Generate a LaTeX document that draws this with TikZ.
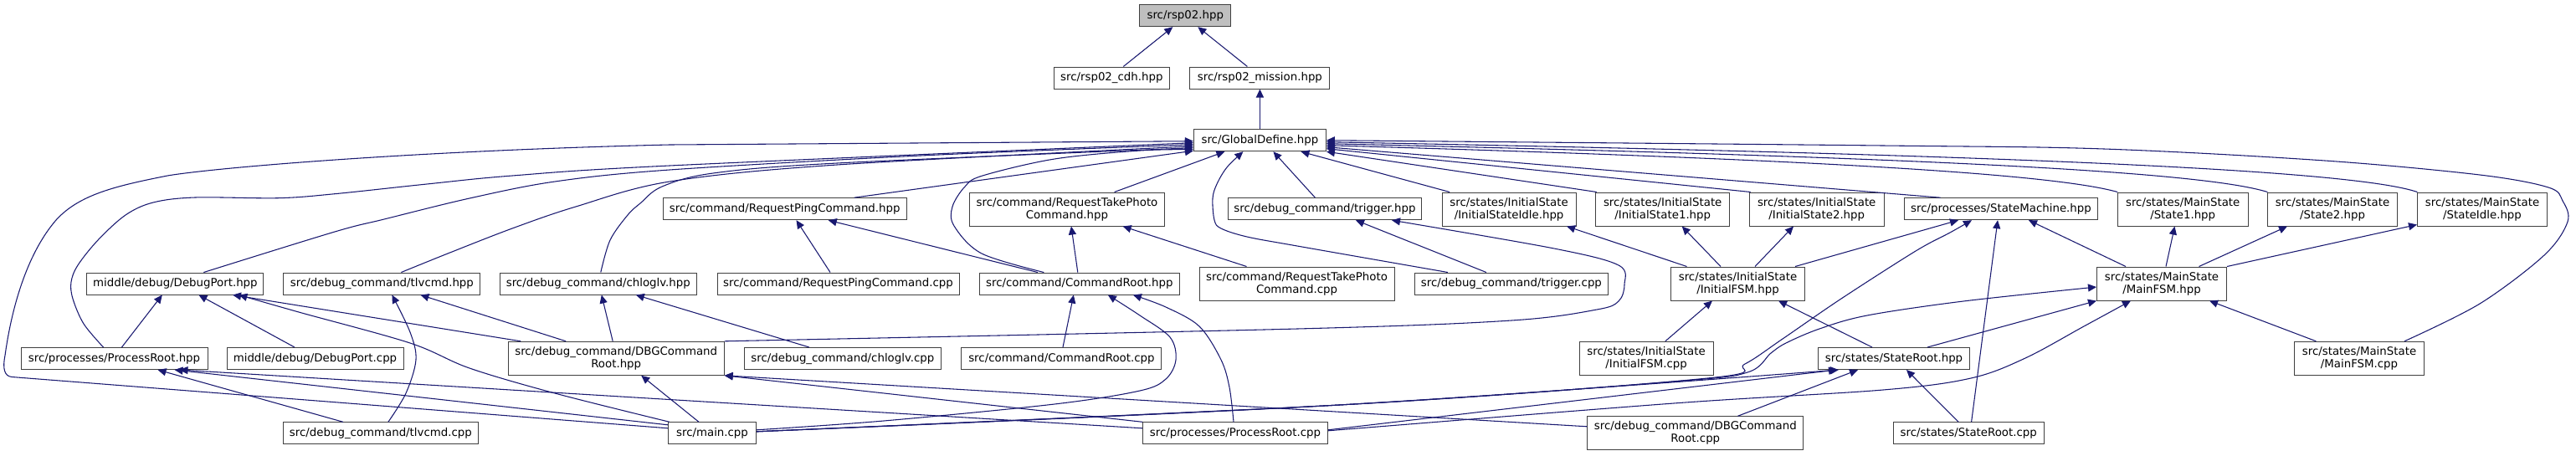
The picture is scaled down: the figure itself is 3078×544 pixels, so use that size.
\documentclass[tikz,border=0pt]{standalone}
\usepackage{fontspec}
\setmainfont{DejaVu Sans}
\usetikzlibrary{arrows.meta,calc}
\definecolor{edgec}{HTML}{191970}
\definecolor{boxc}{HTML}{404040}
\definecolor{rootfill}{HTML}{BFBFBF}
\begin{document}
\begin{tikzpicture}[x=0.75pt,y=-0.75pt,
  box/.style={draw=boxc,line width=0.75pt,fill=white,inner sep=0pt,minimum height=19.5pt,align=center,font=\fontsize{10}{11.25}\selectfont},
  box2/.style={box,minimum height=30pt},
  bw/.style={minimum width={#1*0.75pt}},
  edge/.style={draw=edgec,line width=0.8pt,-{Triangle[length=7.5pt,width=6.8pt]}},
]
\useasboundingbox (0,0) rectangle (3078,544);

% ---------- nodes ----------
\node[box,bw=109,fill=rootfill] (rsp02) at (1416.3,18.7) {src/rsp02.hpp};
\node[box,bw=138] (cdh) at (1328.3,93) {src/rsp02\_cdh.hpp};
\node[box,bw=167] (mission) at (1505.4,93) {src/rsp02\_mission.hpp};
\node[box,bw=158] (gd) at (1505.4,167.7) {src/GlobalDefine.hpp};

\node[box,bw=291] (reqping) at (937.7,249.7) {src/command/RequestPingCommand.hpp};
\node[box2,bw=233] (reqphoto) at (1275,250) {src/command/RequestTakePhoto\\Command.hpp};
\node[box,bw=231] (trighpp) at (1583,249.7) {src/debug\_command/trigger.hpp};
\node[box2,bw=160] (isidle) at (1803.1,250) {src/states/InitialState\\/InitialStateIdle.hpp};
\node[box2,bw=160] (is1) at (1986.7,250) {src/states/InitialState\\/InitialState1.hpp};
\node[box2,bw=161] (is2) at (2170.7,250) {src/states/InitialState\\/InitialState2.hpp};
\node[box,bw=231] (sm) at (2391,249.7) {src/processes/StateMachine.hpp};
\node[box2,bw=156] (ms1) at (2608.2,250) {src/states/MainState\\/State1.hpp};
\node[box2,bw=155] (ms2) at (2787,250) {src/states/MainState\\/State2.hpp};
\node[box2,bw=155] (msidle) at (2966,250) {src/states/MainState\\/StateIdle.hpp};

\node[box,bw=211] (dphpp) at (209.4,339) {middle/debug/DebugPort.hpp};
\node[box,bw=235] (tlvhpp) at (456.4,339) {src/debug\_command/tlvcmd.hpp};
\node[box,bw=235] (chlhpp) at (714.8,339) {src/debug\_command/chloglv.hpp};
\node[box,bw=289] (reqpingcpp) at (1001.5,339) {src/command/RequestPingCommand.cpp};
\node[box,bw=239] (crhpp) at (1289.8,339) {src/command/CommandRoot.hpp};
\node[box2,bw=233] (reqphotocpp) at (1549.5,339) {src/command/RequestTakePhoto\\Command.cpp};
\node[box,bw=231] (trigcpp) at (1805.9,339) {src/debug\_command/trigger.cpp};
\node[box2,bw=160] (ifsmhpp) at (2076.5,339) {src/states/InitialState\\/InitialFSM.hpp};
\node[box2,bw=155] (mfsmhpp) at (2583,339) {src/states/MainState\\/MainFSM.hpp};

\node[box,bw=223] (prhpp) at (136.5,428.5) {src/processes/ProcessRoot.hpp};
\node[box,bw=211] (dpcpp) at (376.5,428.5) {middle/debug/DebugPort.cpp};
\node[box2,bw=258] (dbghpp) at (736.2,428.3) {src/debug\_command/DBGCommand\\Root.hpp};
\node[box,bw=235] (chlcpp) at (1006.9,428.5) {src/debug\_command/chloglv.cpp};
\node[box,bw=239] (crcpp) at (1268.4,428.5) {src/command/CommandRoot.cpp};
\node[box2,bw=160] (ifsmcpp) at (1967.1,428.3) {src/states/InitialState\\/InitialFSM.cpp};
\node[box,bw=181] (srhpp) at (2263,428.5) {src/states/StateRoot.hpp};
\node[box2,bw=155] (mfsmcpp) at (2819,428.3) {src/states/MainState\\/MainFSM.cpp};

\node[box,bw=233] (tlvcpp) at (454.9,517.8) {src/debug\_command/tlvcmd.cpp};
\node[box,bw=105] (maincpp) at (851,517.8) {src/main.cpp};
\node[box,bw=221] (prcpp) at (1476,517.8) {src/processes/ProcessRoot.cpp};
\node[box2,bw=258] (dbgcpp) at (2025.8,517.8) {src/debug\_command/DBGCommand\\Root.cpp};
\node[box,bw=180] (srcpp) at (2352.2,517.8) {src/states/StateRoot.cpp};

% ---------- connector end coordinates ----------
\coordinate (gL1) at ($(gd.west)+(0,1)$);
\coordinate (gL2) at ($(gd.west)+(0,3)$);
\coordinate (gL3) at ($(gd.west)+(0,5)$);
\coordinate (gL4) at ($(gd.west)+(0,7)$);
\coordinate (gL5) at ($(gd.west)+(0,9)$);
\coordinate (gL6) at ($(gd.west)+(0,11)$);
\coordinate (gR0) at ($(gd.east)+(0,0)$);
\coordinate (gR1) at ($(gd.east)+(0,2)$);
\coordinate (gR2) at ($(gd.east)+(0,4)$);
\coordinate (gR3) at ($(gd.east)+(0,6)$);
\coordinate (gR4) at ($(gd.east)+(0,8)$);
\coordinate (gR5) at ($(gd.east)+(0,10)$);

\coordinate (a4) at ($(maincpp.west)+(0,-6)$);
\coordinate (a5) at ($(prhpp.north)+(-13,0)$);
\coordinate (a6) at ($(dphpp.north)+(34,0)$);
\coordinate (a7) at ($(tlvhpp.north)+(23,0)$);
\coordinate (a8) at ($(chlhpp.north)+(3,0)$);
\coordinate (a10) at ($(crhpp.north)+(-42.5,0)$);
\coordinate (a12) at ($(trigcpp.north)+(-76,0)$);
\coordinate (b12) at ($(gd.south)+(-20,0)$);
\coordinate (a21) at ($(mfsmcpp.north)+(54,0)$);
\coordinate (a25) at ($(maincpp.north west)+(2,0)$);
\coordinate (b25) at ($(dphpp.south)+(76,0)$);
\coordinate (a27) at ($(tlvcpp.north)+(9,0)$);
\coordinate (b27) at ($(tlvhpp.south)+(12,0)$);
\coordinate (a37) at ($(maincpp.east)+(0,-4)$);
\coordinate (b37) at ($(crhpp.south)+(34,0)$);
\coordinate (a38) at ($(prcpp.north)+(-2,0)$);
\coordinate (b38) at ($(crhpp.south)+(64,0)$);
\coordinate (b44) at ($(trighpp.south)+(80,0)$);
\coordinate (aM) at ($(maincpp.east)+(0,-2)$);
\coordinate (b51) at ($(sm.south)+(-35,0)$);
\coordinate (a58) at ($(prcpp.east)+(0,-3)$);
\coordinate (b58) at ($(mfsmhpp.south)+(-37,0)$);
\coordinate (b59) at ($(mfsmhpp.west)+(0,4)$);
\coordinate (b61) at ($(srhpp.south)+(-66,0)$);

% ---------- connectors ----------
\draw[edge] ($(cdh.north)+(14,0)$) -- ($(rsp02.south)+(-15,0)$);
\draw[edge] ($(mission.north)+(-15,0)$) -- ($(rsp02.south)+(15,0)$);
\draw[edge] (gd.north) -- (mission.south);

% into GlobalDefine from the left
\draw[edge] (a4) -- (14,450.5) .. controls (5,449.5) and (3,440) .. (6,425)
  .. controls (15,360) and (35,300) .. (67,263)
  .. controls (95,232) and (140,222) .. (200,210)
  .. controls (260,200) and (500,180) .. (800,173) -- (gL1);
\draw[edge] plot[smooth,tension=0.55] coordinates {(a5) (100,387) (87,357) (85,337) (93,317) (117,287) (150,257) (183,242) (233,236) (333,236.7) (400,231.7) (510,220) (612,210) (800,198) (gL2)};
\draw[edge] plot[smooth,tension=0.55] coordinates {(a6) (400,277) (459,262) (561,237) (663,217) (800,203) (1100,186) (gL3)};
\draw[edge] plot[smooth,tension=0.55] coordinates {(a7) (535,303) (612,273) (688,247) (800,217) (1000,197) (gL4)};
\draw[edge] plot[smooth,tension=0.55] coordinates {(a8) (729,287) (750,257) (765,243) (791,223) (852,207) (1000,195) (gL5)};
\draw[edge] ($(reqping.north)+(83,0)$) -- ($(gd.south west)+(0,-1)$);
\draw[edge] plot[smooth,tension=0.55] coordinates {(a10) (1173,303) (1140,270) (1138,247) (1153,223) (1174,210) (1260,190) (1362,180) (gL6)};
% into GlobalDefine from below
\draw[edge] ($(reqphoto.north)+(56.6,0)$) -- ($(gd.south)+(-42,0)$);
\draw[edge] plot[smooth,tension=0.55] coordinates {(a12) (1550,294) (1490,283) (1459,273) (1451,263) (1449,237) (1454,220) (1466,200) (b12)};
\draw[edge] ($(trighpp.north)+(-11.6,0)$) -- ($(gd.south)+(16,0)$);
\draw[edge] ($(isidle.north)+(-71,0)$) -- ($(gd.south)+(49,0)$);
% into GlobalDefine from the right
\draw[edge] ($(is1.north)+(-79,0)$) -- (gd.south east);
\draw[edge] ($(is2.north)+(-79,0)$) -- (gR5);
\draw[edge] ($(sm.north)+(-72.4,0)$) -- (gR4);
\draw[edge] ($(ms1.north)+(-78,0)$) .. controls (2450,207) and (2150,190) .. (gR3);
\draw[edge] ($(ms2.north)+(-77.6,0)$) .. controls (2630,205) and (2300,188) .. (gR2);
\draw[edge] ($(msidle.north)+(-77.6,0)$) .. controls (2810,203) and (2400,185) .. (gR1);
\draw[edge] plot[smooth,tension=0.55] coordinates {(a21) (2963,363) (3040,305) (3068,265) (3062,240) (3045,224) (2963,209) (2778,192) (2514,178) (2250,174) (gR0)};

% DebugPort.hpp
\draw[edge] ($(prhpp.north)+(9,0)$) -- ($(dphpp.south)+(-15.6,0)$);
\draw[edge] ($(dpcpp.north)+(-24.5,0)$) -- ($(dphpp.south)+(28,0)$);
\draw[edge] ($(dbghpp.north)+(-114,0)$) -- ($(dphpp.south)+(68.6,0)$);
\draw[edge] plot[smooth,tension=0.55] coordinates {(a25) (663,470) (561,440) (490,410) (357,373) (b25)};
% tlvcmd.hpp
\draw[edge] ($(dbghpp.north)+(-60,0)$) -- ($(tlvhpp.south)+(46,0)$);
\draw[edge] plot[smooth,tension=0.55] coordinates {(a27) (485,470) (497,430) (490,397) (b27)};
% chloglv.hpp
\draw[edge] ($(dbghpp.north)+(-4,0)$) -- ($(chlhpp.south)+(4,0)$);
\draw[edge] ($(chlcpp.north)+(-40,0)$) -- ($(chlhpp.south)+(45,0)$);
% ProcessRoot.hpp
\draw[edge] ($(tlvcpp.north)+(-45,0)$) -- ($(prhpp.south)+(52,0)$);
\draw[edge] ($(maincpp.west)+(0,-10)$) -- ($(prhpp.south)+(72,0)$);
\draw[edge] ($(prcpp.west)+(0,-6)$) -- ($(prhpp.south)+(78,0)$);
% DBGCommandRoot.hpp
\draw[edge] ($(maincpp.north)+(-16,0)$) -- ($(dbghpp.south)+(30,0)$);
\draw[edge] (prcpp.north west) -- (dbghpp.south east);
\draw[edge] ($(dbgcpp.west)+(0,-8)$) -- (dbghpp.south east);
% CommandRoot.hpp
\draw[edge] ($(crcpp.north)+(1.6,0)$) -- ($(crhpp.south)+(-7,0)$);
\draw[edge] plot[smooth,tension=0.55] coordinates {(a37) (1056,503) (1260,483) (1362,467) (1393,453) (1405,430) (1398,403) (1362,377) (b37)};
\draw[edge] plot[smooth,tension=0.55] coordinates {(a38) (1469,463) (1459,430) (1433,390) (1393,367) (b38)};
% Request commands
\draw[edge] ($(crhpp.north)+(-50,0)$) -- ($(reqping.south)+(52,0)$);
\draw[edge] ($(reqpingcpp.north)+(-9.5,0)$) -- ($(reqping.south)+(13.8,0)$);
\draw[edge] ($(crhpp.north)+(-2,0)$) -- ($(reqphoto.south)+(5,0)$);
\draw[edge] ($(reqphotocpp.north)+(-60,0)$) -- ($(reqphoto.south)+(66.6,0)$);
% trigger.hpp
\draw[edge] ($(trigcpp.north)+(-30,0)$) -- ($(trighpp.south)+(37,0)$);
\draw[edge] plot[smooth,tension=0.55] coordinates {(dbghpp.north east) (1550,393) (1806,383) (1908,370) (1934,360) (1941,340) (1934,317) (1857,297) (b44)};
% InitialFSM.hpp
\draw[edge] ($(ifsmhpp.north)+(-61,0)$) -- ($(isidle.south)+(69,0)$);
\draw[edge] ($(ifsmhpp.north)+(-20.5,0)$) -- ($(is1.south)+(23,0)$);
\draw[edge] ($(ifsmhpp.north)+(20.5,0)$) -- ($(is2.south)+(-27.7,0)$);
\draw[edge] ($(ifsmhpp.north)+(68.5,0)$) -- ($(sm.south)+(-51,0)$);
\draw[edge] ($(ifsmcpp.north)+(22.7,0)$) -- ($(ifsmhpp.south)+(-30.5,0)$);
\draw[edge] ($(srhpp.north)+(-26,0)$) -- ($(ifsmhpp.south)+(48.5,0)$);
% StateMachine.hpp
\draw[edge] plot[smooth,tension=0.55] coordinates {(aM) (1600,484) (2040,452) (2085,435) (2130,405) (2200,357) (2289,300) (2330,278) (b51)};
\draw[edge] ($(srcpp.north)+(3.4,0)$) -- ($(sm.south)+(-4,0)$);
\draw[edge] ($(mfsmhpp.north)+(-43,0)$) -- ($(sm.south)+(33,0)$);
% MainFSM.hpp
\draw[edge] ($(mfsmhpp.north)+(5,0)$) -- ($(ms1.south)+(-9.7,0)$);
\draw[edge] ($(mfsmhpp.north)+(44.5,0)$) -- ($(ms2.south)+(-54,0)$);
\draw[edge] (mfsmhpp.north east) -- ($(msidle.south west)+(0,-2)$);
\draw[edge] ($(srhpp.north)+(40,0)$) -- (mfsmhpp.south west);
\draw[edge] plot[smooth,tension=0.55] coordinates {(a58) (2000,482) (2250,466) (2355,452) (2420,428) (2490,390) (b58)};
\draw[edge] plot[smooth,tension=0.55] coordinates {(aM) (1600,484) (2000,456) (2088,445) (2116,422) (2134,410) (2174,393) (2231,377) (2346,360) (b59)};
\draw[edge] ($(mfsmcpp.north)+(-51.6,0)$) -- ($(mfsmhpp.south)+(57,0)$);
% StateRoot.hpp
\draw[edge] plot[smooth,tension=0.55] coordinates {(aM) (1600,484) (b61)};
\draw[edge] ($(prcpp.east)+(0,-4)$) -- ($(srhpp.south)+(-68,0)$);
\draw[edge] ($(dbgcpp.north)+(50.6,0)$) -- ($(srhpp.south)+(-43,0)$);
\draw[edge] ($(srcpp.north)+(-12,0)$) -- ($(srhpp.south)+(15,0)$);
\end{tikzpicture}
\end{document}
